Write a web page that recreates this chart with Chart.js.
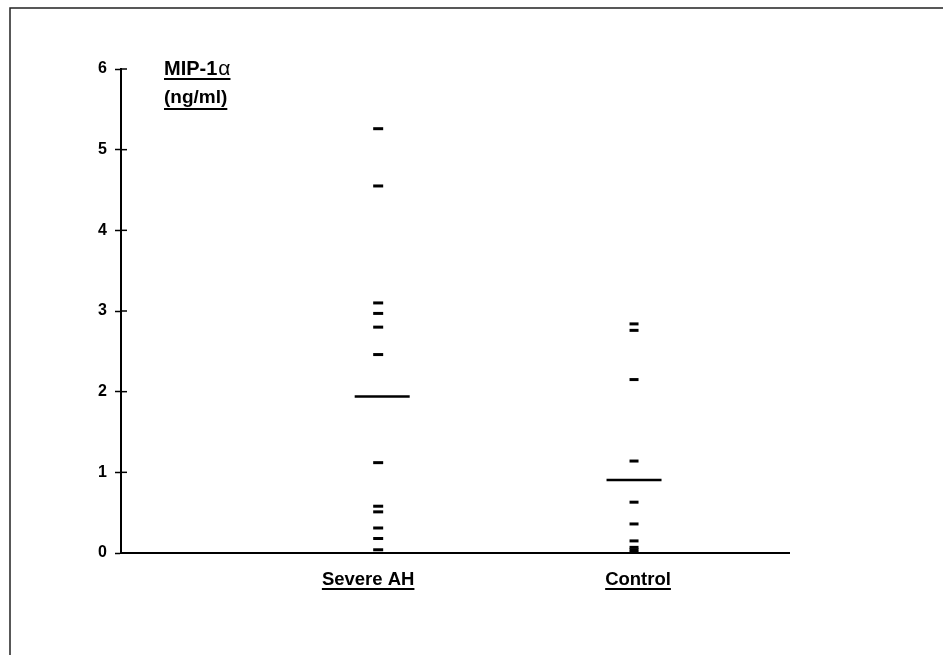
<!DOCTYPE html>
<html>
<head>
<meta charset="utf-8">
<script src="https://cdn.jsdelivr.net/npm/chart.js@4.4.1/dist/chart.umd.min.js"></script>
<style>
  html, body { margin: 0; padding: 0; background: #fff; }
  #wrap { width: 943px; height: 655px; position: relative; }
</style>
</head>
<body>
<div id="wrap"><canvas id="myChart" width="943" height="655"></canvas></div>
<script>
// values (ng/ml)
const categories = ['Severe AH', 'Control'];
const severeAH = [5.26, 4.55, 3.10, 2.97, 2.80, 2.46, 1.12, 0.58, 0.51, 0.31, 0.18, 0.04];
const control = [2.84, 2.76, 2.15, 1.14, 0.63, 0.36, 0.15, 0.07, 0.04, 0.01];
const medians = [1.94, 0.905];
const yTicks = [0, 1, 2, 3, 4, 5, 6];

// where each group sits along the x axis (0..1)
const groupX = [0.385, 0.768];
const medianX = [0.391, 0.768];
const labelX = [0.37, 0.774];

const font = '"Liberation Sans", Arial, Helvetica, sans-serif';

let severePts = severeAH.map(v => ({ x: groupX[0], y: v }));
let controlPts = control.map(v => ({ x: groupX[1], y: v }));
let medianPts = medians.map((v, i) => ({ x: medianX[i], y: v }));

// frame round the figure, inner half of the y ticks, axis title, underlines
const extras = {
  id: 'extras',
  afterDraw(chart) {
    const ctx = chart.ctx;
    const y = chart.scales.y;
    const x = chart.scales.x;
    const area = chart.chartArea;
    ctx.save();
    ctx.strokeStyle = '#222';
    ctx.lineWidth = 1.5;
    ctx.beginPath();
    ctx.moveTo(10, 655);
    ctx.lineTo(10, 8);
    ctx.lineTo(943, 8);
    ctx.stroke();

    ctx.strokeStyle = '#000';
    ctx.lineWidth = 1.5;
    yTicks.forEach(t => {
      if (t === 0) return;
      const py = y.getPixelForValue(t);
      ctx.beginPath();
      ctx.moveTo(area.left, py);
      ctx.lineTo(area.left + 6, py);
      ctx.stroke();
    });

    ctx.fillStyle = '#000';
    ctx.textAlign = 'left';
    ctx.textBaseline = 'alphabetic';
    ctx.font = 'bold 20px ' + font;
    const tx = area.left + 43;
    ctx.fillText('MIP-1', tx, area.top + 6);
    let w1 = ctx.measureText('MIP-1').width;
    ctx.font = '21px ' + font;
    ctx.fillText('α', tx + w1 + 1, area.top + 6);
    w1 += ctx.measureText('α').width + 1;
    ctx.font = 'bold 19px ' + font;
    ctx.fillText('(ng/ml)', tx, area.top + 34);
    const w2 = ctx.measureText('(ng/ml)').width;
    ctx.lineWidth = 2;
    ctx.beginPath();
    ctx.moveTo(tx, area.top + 10); ctx.lineTo(tx + w1, area.top + 10);
    ctx.moveTo(tx, area.top + 40); ctx.lineTo(tx + w2, area.top + 40);
    ctx.stroke();

    // underline category labels
    ctx.font = 'bold 18.5px ' + font;
    labelX.forEach((v, i) => {
      const px = x.getPixelForValue(v);
      const w = ctx.measureText(categories[i]).width;
      ctx.beginPath();
      ctx.moveTo(px - w / 2, area.bottom + 36);
      ctx.lineTo(px + w / 2, area.bottom + 36);
      ctx.stroke();
    });
    ctx.restore();
  }
};

let cht = document.getElementById('myChart');
let chart = new Chart(cht, {
  type: 'scatter',
  data: {
    datasets: [{
      label: categories[0],
      data: severePts,
      pointStyle: 'line',
      radius: 5,
      borderWidth: 3,
      borderColor: '#000',
      clip: false
    }, {
      label: categories[1],
      data: controlPts,
      pointStyle: 'line',
      radius: 4.5,
      borderWidth: 3,
      borderColor: '#000',
      clip: false
    }, {
      label: 'Median',
      data: medianPts,
      pointStyle: 'line',
      radius: 27.5,
      borderWidth: 2.5,
      borderColor: '#000',
      clip: false
    }]
  },
  options: {
    responsive: false,
    animation: false,
    events: [],
    layout: { padding: { left: 10, top: 69, right: 154, bottom: 62 } },
    plugins: { legend: { display: false }, tooltip: { enabled: false } },
    scales: {
      x: {
        type: 'linear',
        min: 0,
        max: 1,
        afterFit: s => { s.height = 40; },
        afterBuildTicks: s => { s.ticks = labelX.map(v => ({ value: v })); },
        grid: { display: false },
        border: { display: true, color: '#000', width: 2 },
        ticks: {
          color: '#000',
          padding: 8,
          maxRotation: 0,
          autoSkip: false,
          font: { family: font, size: 18.5, weight: 'bold' },
          callback: (v, i) => categories[i]
        }
      },
      y: {
        min: 0,
        max: 6,
        afterFit: s => { s.width = 111; },
        afterBuildTicks: s => { s.ticks = yTicks.map(v => ({ value: v })); },
        grid: { drawOnChartArea: false, drawTicks: true, tickLength: 6, tickWidth: 1.5, tickColor: '#000' },
        border: { display: true, color: '#000', width: 2 },
        ticks: {
          color: '#000',
          padding: 8,
          font: { family: font, size: 16, weight: 'bold' }
        }
      }
    }
  },
  plugins: [extras]
});
</script>
</body>
</html>
